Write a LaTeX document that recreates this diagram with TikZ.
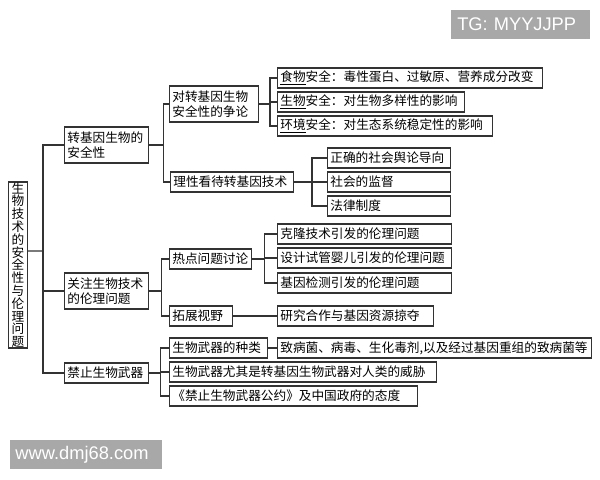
\documentclass[tikz,border=0pt]{standalone}
\usepackage{fontspec}
\newfontfamily\cjk{Noto Sans CJK SC}
\newfontfamily\wmfont{Liberation Sans}
\definecolor{wmgray}{HTML}{A8A8A8}
\tikzset{
	box/.style={draw=black!80, line width=0.8pt, anchor=west, align=left, inner xsep=2pt, inner ysep=0pt,
		minimum height=0.5cm, font=\cjk\fontsize{9}{10.6}\selectfont},
	link/.style={draw=black!80, line width=0.8pt},
	wm/.style={fill=wmgray, text=white, anchor=west, align=left, inner ysep=0pt,
		minimum height=0.725cm, font=\wmfont\fontsize{13}{15}\selectfont}
}

\begin{document}
\begin{tikzpicture}[x=0.025cm,y=-0.025cm]
	\useasboundingbox (0,0) rectangle (600,480);
	\node [box, align=center, inner sep=0pt, minimum width=0.475cm, minimum height=4.15cm,
		font=\cjk\fontsize{9}{9.1}\selectfont] (n0) at (8,265)
		{生\\物\\技\\术\\的\\安\\全\\性\\与\\伦\\理\\问\\题};
	\node [box, text width=1.96cm, minimum height=0.9cm] (n1) at (64,145) {转基因生物的\\安全性};
	\node [box, text width=1.96cm, minimum height=0.9cm] (n2) at (64,291) {关注生物技术\\的伦理问题};
	\node [box, text width=1.96cm] (n3) at (64,373) {禁止生物武器};
	\node [box, text width=2.08cm, minimum height=0.9cm] (n4) at (169,104) {对转基因生物\\安全性的争论};
	\node [box, text width=2.93cm] (n5) at (170,182) {理性看待转基因技术};
	\node [box, text width=1.91cm] (n6) at (169,259) {热点问题讨论};
	\node [box, text width=1.43cm] (n7) at (169,316) {拓展视野};
	\node [box, text width=2.31cm] (n8) at (169,348) {生物武器的种类};
	\node [box, text width=6.53cm] (n9) at (169,372) {生物武器尤其是转基因生物武器对人类的威胁};
	\node [box, text width=6.06cm] (n10) at (169,396) {《禁止生物武器公约》及中国政府的态度};
	\node [box, text width=6.48cm] (n11) at (277,78) {\underline{食物}安全：毒性蛋白、过敏原、营养成分改变};
	\node [box, text width=4.53cm] (n12) at (277,102) {\underline{生物}安全：对生物多样性的影响};
	\node [box, text width=5.23cm] (n13) at (277,126) {\underline{环境}安全：对生态系统稳定性的影响};
	\node [box, text width=2.93cm] (n14) at (327,158) {正确的社会舆论导向};
	\node [box, text width=2.93cm] (n15) at (327,182) {社会的监督};
	\node [box, text width=2.93cm] (n16) at (327,206) {法律制度};
	\node [box, text width=4.21cm] (n17) at (277,234) {克隆技术引发的伦理问题};
	\node [box, text width=4.21cm] (n18) at (277,258) {设计试管婴儿引发的伦理问题};
	\node [box, text width=4.21cm] (n19) at (277,283) {基因检测引发的伦理问题};
	\node [box, text width=3.76cm] (n20) at (277,316) {研究合作与基因资源掠夺};
	\node [box, text width=7.71cm] (n21) at (277,348) {致病菌、病毒、生化毒剂,以及经过基因重组的致病菌等};
	\node [wm, inner xsep=0.15cm, text width=3.175cm] (n22) at (451,24.5) {TG: MYYJJPP};
	\node [wm, inner xsep=0.13cm, text width=3.54cm] (n23) at (10,454.5) {www.dmj68.com};
	% tree links
	\coordinate (j0) at (43,251);
	\draw [link] ([yshift=0.35cm]n0.east) -- (j0);
	\foreach \c in {n1,n2,n3} \draw [link] (j0) |- (\c.west);
	\foreach \c in {n4,n5} \draw [link] (n1.east) -- +(14,0) |- (\c.west);
	\foreach \c in {n6,n7} \draw [link] (n2.east) -- +(12,0) |- (\c.west);
	\foreach \c in {n8,n9,n10} \draw [link] (n3.east) -- +(11,0) |- (\c.west);
	\foreach \c in {n11,n12,n13} \draw [link] (n4.east) -- +(11,0) |- (\c.west);
	\foreach \c in {n14,n15,n16} \draw [link] (n5.east) -- +(18,0) |- (\c.west);
	\foreach \c in {n17,n18,n19} \draw [link] (n6.east) -- +(12,0) |- (\c.west);
	\draw [link] (n7) -- (n20);
	\draw [link] (n8) -- (n21);
\end{tikzpicture}
\end{document}
